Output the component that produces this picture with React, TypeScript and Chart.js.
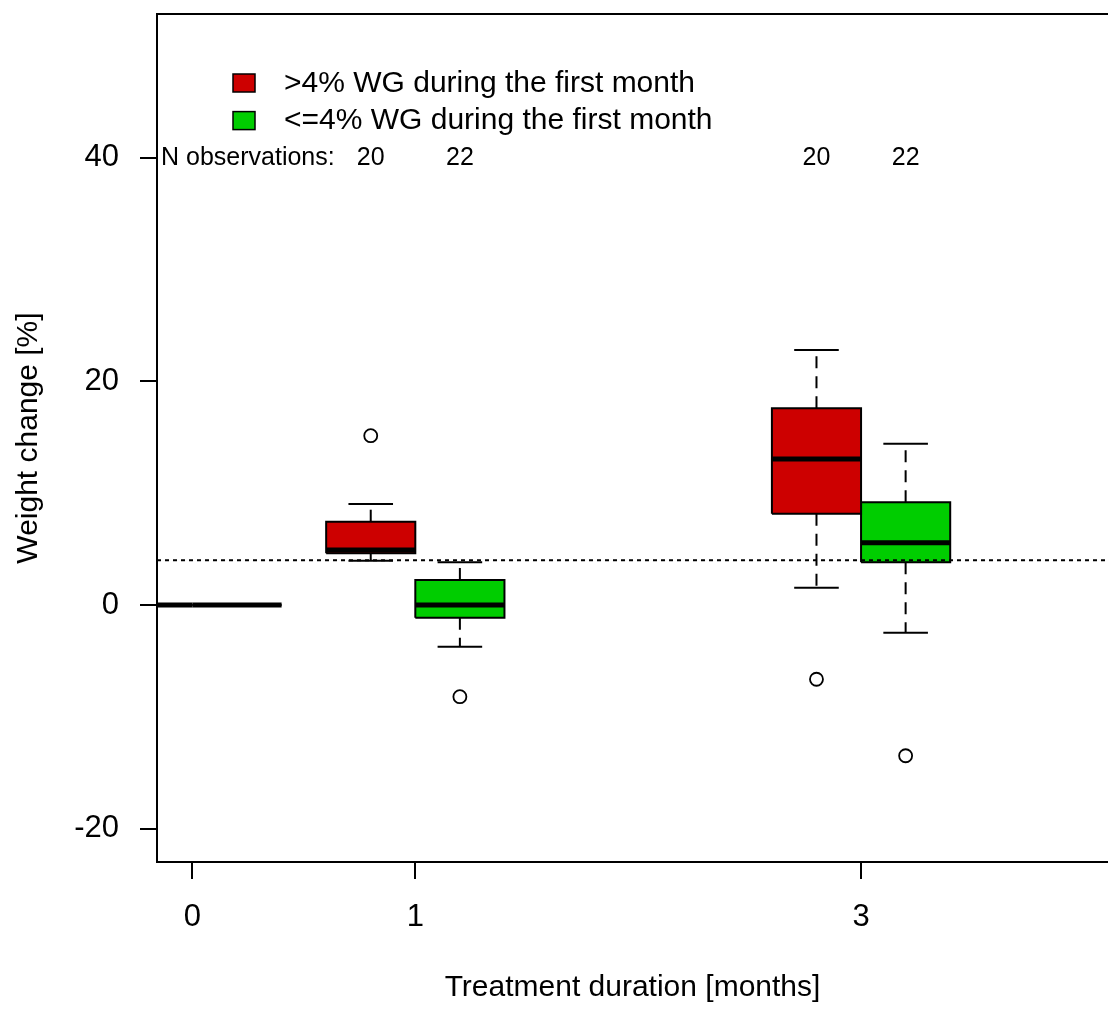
import React, { useEffect, useRef } from 'react';
import { Chart, registerables } from 'chart.js';

Chart.register(...registerables);

const FONT = "'Liberation Sans', Arial, sans-serif";

// Treatment durations (months) where boxes are drawn
const MONTHS = [0, 1, 3];
const X_TICKS = [0, 1, 3];
const Y_TICKS = [-20, 0, 20, 40];
const X_MIN = -0.159;
const X_MAX = 4.108;
const Y_MIN = -22.98;
const Y_MAX = 52.85;

const GROUP_LABELS = ['>4% WG during the first month', '<=4% WG during the first month'];
const GROUP_COLORS = ['#CD0000', '#00CD00'];
const GROUP_OFFSETS = [-0.2, 0.2];
const BOX_HALF = 0.2;
const CAP_HALF = 0.1;

// Group 1: >4% WG during the first month (values per month 0, 1, 3)
const RED_MIN = [0, 3.96, 1.55];
const RED_Q1 = [0, 4.62, 8.16];
const RED_MED = [0, 4.92, 13.06];
const RED_Q3 = [0, 7.45, 17.59];
const RED_MAX = [0, 9.03, 22.8];
const RED_OUTLIERS = [[], [15.14], [-6.64]];
const RED_N = [null, 20, 20];

// Group 2: <=4% WG during the first month
const GREEN_MIN = [0, -3.73, -2.48];
const GREEN_Q1 = [0, -1.14, 3.82];
const GREEN_MED = [0, 0, 5.57];
const GREEN_Q3 = [0, 2.24, 9.18];
const GREEN_MAX = [0, 3.82, 14.42];
const GREEN_OUTLIERS = [[], [-8.2], [-13.48]];
const GREEN_N = [null, 22, 22];

const REF_LINE = 4;
const N_LABEL_Y = 40;
const N_LABEL = 'N observations:';

const GROUPS = [
  { min: RED_MIN, q1: RED_Q1, med: RED_MED, q3: RED_Q3, max: RED_MAX, out: RED_OUTLIERS, n: RED_N },
  { min: GREEN_MIN, q1: GREEN_Q1, med: GREEN_MED, q3: GREEN_Q3, max: GREEN_MAX, out: GREEN_OUTLIERS, n: GREEN_N },
];

function buildDatasets() {
  const ds: any[] = [];
  const seg = (pts: { x: number; y: number }[], extra: any) => ({
    data: pts,
    borderColor: '#000',
    borderWidth: 2,
    pointRadius: 0,
    fill: false,
    tension: 0,
    ...extra,
  });
  // reference dotted line (topmost)
  ds.push(seg([{ x: X_MIN, y: REF_LINE }, { x: X_MAX, y: REF_LINE }], { borderDash: [4, 4], clip: 0 }));
  // outliers
  GROUPS.forEach((g, gi) => {
    const pts: { x: number; y: number }[] = [];
    MONTHS.forEach((m, mi) => g.out[mi].forEach((v) => pts.push({ x: m + GROUP_OFFSETS[gi], y: v })));
    ds.push({
      data: pts,
      showLine: false,
      pointRadius: 6.5,
      pointBorderWidth: 1.8,
      pointBorderColor: '#000',
      pointBackgroundColor: '#fff',
    });
  });
  // medians
  GROUPS.forEach((g, gi) => {
    MONTHS.forEach((m, mi) => {
      const c = m + GROUP_OFFSETS[gi];
      ds.push(seg([{ x: c - BOX_HALF, y: g.med[mi] }, { x: c + BOX_HALF, y: g.med[mi] }], { borderWidth: 5, clip: 0 }));
    });
  });
  // boxes
  GROUPS.forEach((g, gi) => {
    MONTHS.forEach((m, mi) => {
      const c = m + GROUP_OFFSETS[gi];
      ds.push(
        seg(
          [
            { x: c - BOX_HALF, y: g.q1[mi] },
            { x: c + BOX_HALF, y: g.q1[mi] },
            { x: c + BOX_HALF, y: g.q3[mi] },
            { x: c - BOX_HALF, y: g.q3[mi] },
            { x: c - BOX_HALF, y: g.q1[mi] },
          ],
          { fill: 'shape', backgroundColor: GROUP_COLORS[gi], borderJoinStyle: 'miter', clip: 0 }
        )
      );
    });
  });
  // whiskers and caps
  GROUPS.forEach((g, gi) => {
    MONTHS.forEach((m, mi) => {
      const c = m + GROUP_OFFSETS[gi];
      ds.push(seg([{ x: c, y: g.q3[mi] }, { x: c, y: g.max[mi] }], { borderDash: [12, 8] }));
      ds.push(seg([{ x: c, y: g.q1[mi] }, { x: c, y: g.min[mi] }], { borderDash: [12, 8] }));
      ds.push(seg([{ x: c - CAP_HALF, y: g.max[mi] }, { x: c + CAP_HALF, y: g.max[mi] }], { clip: 0 }));
      ds.push(seg([{ x: c - CAP_HALF, y: g.min[mi] }, { x: c + CAP_HALF, y: g.min[mi] }], { clip: 0 }));
    });
  });
  return ds;
}

const decorPlugin = {
  id: 'rDecor',
  afterDraw(chart: any) {
    const { ctx, chartArea: a, scales } = chart;
    const x = scales.x;
    const y = scales.y;
    ctx.save();
    // top frame line (the plot region continues past the right edge)
    ctx.strokeStyle = '#000';
    ctx.lineWidth = 2;
    ctx.beginPath();
    ctx.moveTo(a.left - 1, a.top);
    ctx.lineTo(a.right, a.top);
    ctx.stroke();

    // N observations row
    ctx.fillStyle = '#000';
    ctx.font = `25px ${FONT}`;
    ctx.textBaseline = 'middle';
    const ny = y.getPixelForValue(N_LABEL_Y);
    ctx.textAlign = 'left';
    ctx.fillText(N_LABEL, a.left + 4, ny);
    ctx.textAlign = 'center';
    GROUPS.forEach((g, gi) => {
      MONTHS.forEach((m, mi) => {
        const n = g.n[mi];
        if (n != null) ctx.fillText(String(n), x.getPixelForValue(m + GROUP_OFFSETS[gi]), ny);
      });
    });

    // legend
    ctx.font = `30px ${FONT}`;
    ctx.textAlign = 'left';
    GROUP_LABELS.forEach((lab, i) => {
      const rx = a.left + 76;
      const ry = a.top + 60 + i * 37.6;
      ctx.fillStyle = GROUP_COLORS[i];
      ctx.fillRect(rx, ry, 22, 18);
      ctx.strokeStyle = '#000';
      ctx.lineWidth = 1.5;
      ctx.strokeRect(rx, ry, 22, 18);
      ctx.fillStyle = '#000';
      ctx.fillText(lab, a.left + 127, ry + 9.5);
    });
    ctx.restore();
  },
};

const zeroPad = (s: any) => {
  s.paddingTop = 0;
  s.paddingBottom = 0;
  s.paddingLeft = 0;
  s.paddingRight = 0;
};

export default function App() {
  const ref = useRef<HTMLCanvasElement | null>(null);
  useEffect(() => {
    document.body.style.margin = '0';
    const canvas = ref.current;
    if (!canvas) return;
    const tickFont = { family: FONT, size: 31 };
    const titleFont = { family: FONT, size: 30 };
    const chart = new Chart(canvas, {
      type: 'line',
      data: { datasets: buildDatasets() },
      plugins: [decorPlugin],
      options: {
        animation: false,
        responsive: false,
        devicePixelRatio: 1,
        events: [],
        layout: { autoPadding: false, padding: { top: 14, right: 0, bottom: 0, left: 0 } },
        plugins: { legend: { display: false }, tooltip: { enabled: false } },
        scales: {
          x: {
            type: 'linear',
            min: X_MIN,
            max: X_MAX,
            afterBuildTicks: (s: any) => {
              s.ticks = X_TICKS.map((v) => ({ value: v }));
            },
            afterFit: (s: any) => {
              s.height = 152;
              zeroPad(s);
            },
            grid: { drawOnChartArea: false, drawTicks: true, tickLength: 17, color: '#000', lineWidth: 2 },
            border: { display: true, color: '#000', width: 2 },
            ticks: { font: tickFont, color: '#000', padding: 20, maxRotation: 0, autoSkip: false, callback: (v: any) => String(v) },
            title: { display: true, text: 'Treatment duration [months]', font: titleFont, color: '#000', padding: { top: 0, bottom: 8 } },
          },
          y: {
            type: 'linear',
            min: Y_MIN,
            max: Y_MAX,
            afterBuildTicks: (s: any) => {
              s.ticks = Y_TICKS.map((v) => ({ value: v }));
            },
            afterFit: (s: any) => {
              s.width = 157;
              zeroPad(s);
            },
            grid: { drawOnChartArea: false, drawTicks: true, tickLength: 17, color: '#000', lineWidth: 2 },
            border: { display: true, color: '#000', width: 2 },
            ticks: { font: tickFont, color: '#000', padding: 21, autoSkip: false, callback: (v: any) => String(v) },
            title: { display: true, text: 'Weight change [%]', font: titleFont, color: '#000', padding: { top: 11, bottom: 0 } },
          },
        },
      } as any,
    });
    return () => chart.destroy();
  }, []);
  return (
    <div style={{ position: 'absolute', left: 0, top: 0, width: 1108, height: 1014, background: '#fff', overflow: 'hidden' }}>
      <canvas ref={ref} width={1108} height={1014} style={{ display: 'block' }} />
    </div>
  );
}
